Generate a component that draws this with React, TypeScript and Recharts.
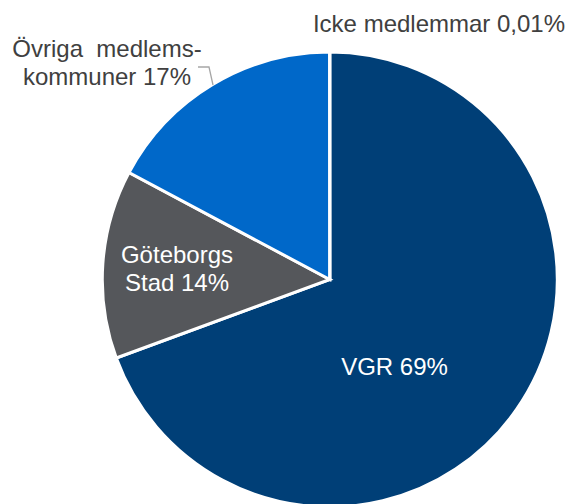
import { PieChart, Pie, Cell } from "recharts";

const NAMES = ["VGR", "Göteborgs Stad", "Övriga medlemskommuner", "Icke medlemmar"];
const SHARES = [69.4, 13.4, 17.2, 0.01];
const LABELS = [["VGR 69%"], ["Göteborgs", "Stad 14%"], ["Övriga  medlems-", "kommuner 17%"], ["Icke medlemmar 0,01%"]];

const COLORS = ["#003f77", "#55575b", "#0068c9", "#0068c9"];
const FONT = "'Liberation Sans', Arial, sans-serif";

// label anchor offsets from the pie centre (x = centre of text, y = first baseline)
const LABEL_POS = [
  { dx: 64.7, dy: 95.5, fill: "#ffffff" },
  { dx: -152.8, dy: -16.5, fill: "#ffffff" },
  { dx: -222.8, dy: -222.5, fill: "#404040" },
  { dx: 109.2, dy: -247.5, fill: "#404040" },
];

const data = NAMES.map((name, i) => ({ name, value: SHARES[i] }));

function renderLabel(props: any) {
  const { cx, cy, index } = props;
  const pos = LABEL_POS[index];
  const lines = LABELS[index];
  const x = cx + pos.dx;
  const y = cy + pos.dy;
  return (
    <g key={`label-${index}`}>
      {index === 2 && (
        <polyline
          points={`${cx - 131.8},${cy - 212.5} ${cx - 120.8},${cy - 212.5} ${cx - 116.8},${cy - 194.5}`}
          fill="none"
          stroke="#a6a6a6"
          strokeWidth={1.3}
        />
      )}
      <text
        x={x}
        y={y}
        textAnchor="middle"
        fill={pos.fill}
        fontSize={24}
        fontFamily={FONT}
        style={{ whiteSpace: "pre" }}
      >
        {lines.map((line, i) => (
          <tspan key={i} x={x} dy={i === 0 ? 0 : 27.5}>
            {line}
          </tspan>
        ))}
      </text>
    </g>
  );
}

export default function App() {
  return (
    <div style={{ position: "absolute", left: 0, top: 0, background: "#fff" }}>
      <PieChart width={569} height={504} margin={{ top: 0, right: 0, bottom: 0, left: 0 }}>
        <Pie
          data={data}
          dataKey="value"
          nameKey="name"
          cx={329.8}
          cy={279.5}
          outerRadius={227.5}
          startAngle={90}
          endAngle={-270}
          stroke="#ffffff"
          strokeWidth={3}
          label={renderLabel}
          labelLine={false}
          isAnimationActive={false}
        >
          {data.map((_, index) => (
            <Cell key={`cell-${index}`} fill={COLORS[index]} />
          ))}
        </Pie>
      </PieChart>
    </div>
  );
}
